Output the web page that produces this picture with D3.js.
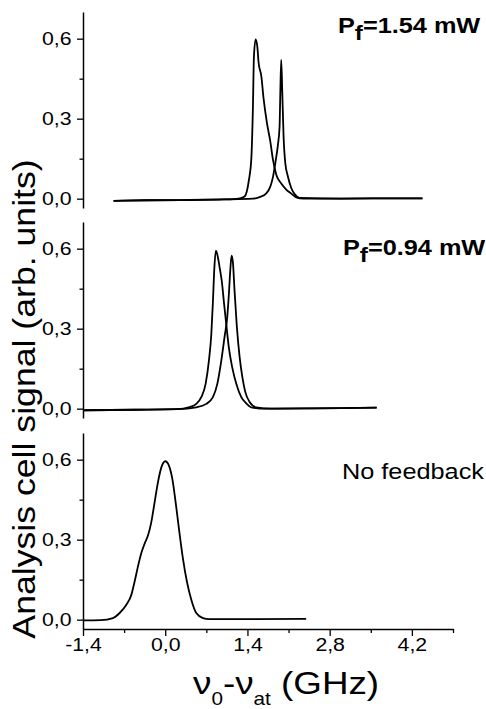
<!DOCTYPE html>
<html>
<head>
<meta charset="utf-8">
<script src="https://cdn.jsdelivr.net/npm/d3@7"></script>
<style>
  body { margin: 0; background: #fff; }
  svg { display: block; }
  text { font-family: "Liberation Sans", Arial, sans-serif; fill: #000; }
</style>
</head>
<body>
<div id="chart"></div>
<script>
// values, [detuning GHz, signal]
var topLeft = [[-0.88,-0.008],[-0.3,-0.006],[0.4,-0.005],[1.0,-0.003],[1.25,0.0],[1.351,0.008],[1.425,0.07],[1.466,0.15],[1.493,0.34],[1.51,0.53],[1.539,0.597],[1.568,0.57],[1.59,0.51],[1.636,0.46],[1.675,0.375],[1.731,0.285],[1.789,0.215],[1.833,0.148],[1.891,0.09],[1.976,0.057],[2.061,0.034],[2.146,0.019],[2.231,0.005],[2.35,0.0],[3.0,0.0],[3.8,0.001],[4.38,0.001]]
var topRight = [[-0.88,-0.008],[-0.3,-0.006],[0.4,-0.005],[1.0,-0.003],[1.493,0.0],[1.607,0.006],[1.721,0.02],[1.789,0.045],[1.833,0.08],[1.879,0.14],[1.918,0.2],[1.947,0.27],[1.96,0.4],[1.975,0.52],[1.993,0.4],[2.015,0.235],[2.044,0.134],[2.089,0.083],[2.146,0.04],[2.203,0.017],[2.288,0.003],[3.0,0.0],[3.8,0.001],[4.38,0.001]]
var midLeft = [[-1.4,-0.006],[-0.5,-0.004],[0.2,-0.002],[0.415,0.006],[0.529,0.018],[0.614,0.043],[0.688,0.093],[0.744,0.18],[0.785,0.28],[0.812,0.4],[0.836,0.525],[0.863,0.593],[0.897,0.568],[0.926,0.53],[0.965,0.475],[0.999,0.4],[1.04,0.315],[1.084,0.228],[1.142,0.154],[1.21,0.093],[1.295,0.043],[1.38,0.02],[1.466,0.005],[1.7,0.0],[2.5,0.001],[3.0,0.002],[3.6,0.004]]
var midRight = [[-1.4,-0.006],[-0.5,-0.004],[0.2,-0.002],[0.529,0.005],[0.7,0.018],[0.812,0.043],[0.887,0.093],[0.955,0.18],[1.011,0.27],[1.057,0.346],[1.084,0.43],[1.108,0.52],[1.13,0.574],[1.152,0.55],[1.181,0.44],[1.22,0.306],[1.266,0.195],[1.312,0.12],[1.363,0.063],[1.437,0.025],[1.551,0.005],[1.8,0.0],[2.5,0.001],[3.0,0.002],[3.6,0.004]]
var noFeedback = [[-1.4,-0.003],[-1.1,-0.002],[-0.89,0.006],[-0.776,0.025],[-0.662,0.056],[-0.577,0.093],[-0.521,0.143],[-0.465,0.199],[-0.407,0.25],[-0.35,0.285],[-0.29,0.318],[-0.237,0.366],[-0.18,0.441],[-0.124,0.515],[-0.066,0.571],[0.002,0.594],[0.063,0.578],[0.121,0.528],[0.177,0.441],[0.233,0.342],[0.301,0.23],[0.369,0.143],[0.444,0.075],[0.529,0.025],[0.642,0.006],[0.75,0.002],[1.5,0.002],[2.4,0.003]]

var xTicks = [-1.4, 0, 1.4, 2.8, 4.2]
var xMinor = [-0.7, 0.7, 2.1, 3.5, 4.9]
var yTicks = [0, 0.3, 0.6]
var yMinor = [0.15, 0.45]
var powers = ["1.54 mW", "0.94 mW", null]

var panels = [[topLeft, topRight], [midLeft, midRight], [noFeedback]]

// layout
var panelTop = [12, 222, 433]
var panelH = 196
var labelPos = [[338, 33], [343, 255], [342, 479]]
var SX = 1.15   // the original text is a bit wide

var fmt = function(v) { return v.toFixed(1).replace(".", ",") }

var svg = d3.select("#chart").append("svg")
  .attr("width", 486)
  .attr("height", 709)

var x = d3.scaleLinear().domain([-1.4, 4.9]).range([83, 453])

function styleAxis(ax) {
  ax.attr("font-size", null).attr("font-family", null)
  ax.select(".domain").style("stroke", "#000").style("stroke-width", 1.5)
  ax.selectAll(".tick line").style("stroke", "#000").style("stroke-width", 1.3)
  ax.selectAll(".tick text")
    .style("font-size", "18.5px")
    .attr("transform", "scale(" + SX + ",1)")
}

panels.forEach(function(series, i) {
  var y = d3.scaleLinear()
    .domain([-0.035, 0.7])
    .range([panelTop[i] + panelH, panelTop[i]])

  var g = svg.append("g")

  var ay = g.append("g")
    .attr("transform", "translate(83,0)")
    .call(d3.axisLeft(y).tickValues(yTicks).tickSize(6).tickSizeOuter(0).tickPadding(4).tickFormat(fmt))
  styleAxis(ay)

  var ayMinor = g.append("g")
    .attr("transform", "translate(83,0)")
    .call(d3.axisLeft(y).tickValues(yMinor).tickSize(3.5).tickFormat(""))
  ayMinor.select(".domain").remove()
  ayMinor.selectAll(".tick line").style("stroke", "#000").style("stroke-width", 1.3)

  var line = d3.line()
    .x(function(d) { return x(d[0]) })
    .y(function(d) { return y(d[1]) })
    .curve(d3.curveMonotoneX)

  series.forEach(function(s) {
    g.append("path")
      .attr("d", line(s))
      .style("fill", "none")
      .style("stroke", "#000")
      .style("stroke-width", 1.8)
      .style("stroke-linejoin", "round")
  })

  // panel note
  var lg = svg.append("g")
    .attr("transform", "translate(" + labelPos[i][0] + "," + labelPos[i][1] + ") scale(" + SX + ",1)")
  var t = lg.append("text").style("font-size", "22px")
  if (powers[i]) {
    t.style("font-weight", "bold")
    t.append("tspan").text("P")
    t.append("tspan").attr("dy", 7).style("font-size", "21px").text("f")
    t.append("tspan").attr("dy", -7).text("=" + powers[i])
  } else {
    t.text("No feedback")
  }

  if (i == panels.length - 1) {
    var ax = g.append("g")
      .attr("transform", "translate(0," + (panelTop[i] + panelH) + ")")
      .call(d3.axisBottom(x).tickValues(xTicks).tickSize(7).tickSizeOuter(0).tickPadding(2).tickFormat(fmt))
    styleAxis(ax)

    var axMinor = g.append("g")
      .attr("transform", "translate(0," + (panelTop[i] + panelH) + ")")
      .call(d3.axisBottom(x).tickValues(xMinor).tickSize(4).tickFormat(""))
    axMinor.select(".domain").remove()
    axMinor.selectAll(".tick line").style("stroke", "#000").style("stroke-width", 1.3)
  }
})

// y title
svg.append("text")
  .attr("transform", "translate(35,399) rotate(-90) scale(" + SX + ",1)")
  .attr("text-anchor", "middle")
  .style("font-size", "31px")
  .text("Analysis cell signal (arb. units)")

// x title with subscripts
var xt = svg.append("g")
  .attr("transform", "translate(193,694) scale(" + SX + ",1)")
  .append("text")
  .style("font-size", "32px")
xt.append("tspan").text("ν")
xt.append("tspan").attr("dy", 11).style("font-size", "18px").text("0")
xt.append("tspan").attr("dy", -11).text("-ν")
xt.append("tspan").attr("dy", 11).style("font-size", "18px").text("at")
xt.append("tspan").attr("dy", -11).text(" (GHz)")
</script>
</body>
</html>
